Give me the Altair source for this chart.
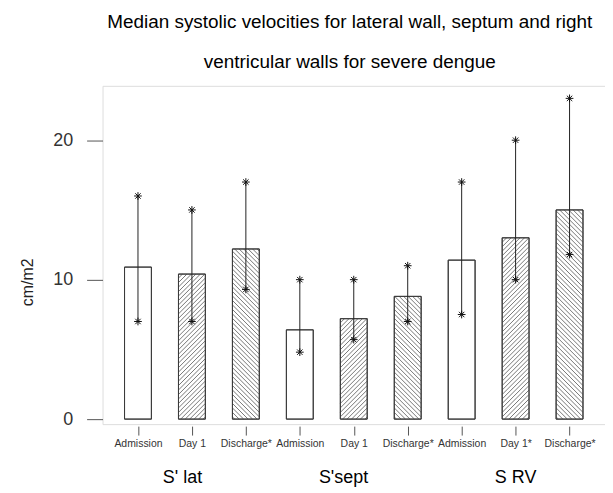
import json
import altair as alt
import pandas as pd

# ---- data ----
labels = ["Admission", "Day 1", "Discharge*", "Admission", "Day 1", "Discharge*",
          "Admission", "Day 1*", "Discharge*"]
positions = [1, 2, 3, 4, 5, 6, 7, 8, 9]
medians = [10.9, 10.4, 12.2, 6.4, 7.2, 8.8, 11.4, 13.0, 15.0]
lower = [7.0, 7.0, 9.3, 4.8, 5.7, 7.0, 7.5, 10.0, 11.8]
upper = [16.0, 15.0, 17.0, 10.0, 10.0, 11.0, 17.0, 20.0, 23.0]
hatch = ["none", "up", "down", "none", "up", "down", "none", "up", "down"]
group_names = ["S' lat", "S'sept", "S RV"]
group_pos = [1.825, 4.81, 8.0]

# ---- geometry ----
W, H = 505, 340
x_dom = [0.343, 9.657]
y_dom = [-0.36, 23.9]
half = 0.249
px_x = W / (x_dom[1] - x_dom[0])
px_y = H / (y_dom[1] - y_dom[0])
FONT = "Liberation Sans"

bars = pd.DataFrame({"pos": positions, "label": labels, "median": medians,
                     "lo": lower, "hi": upper})

# hatch segments derived from bar values
segs = []
step = 4.5
bw = 2 * half * px_x
for p, m, h in zip(positions, medians, hatch):
    if h == "none":
        continue
    Hp = m * px_y
    left = p - half
    c = -bw if h == "up" else 0.0
    cmax = Hp if h == "up" else Hp + bw
    c += step / 2
    while c < cmax:
        if h == "up":
            u0, u1 = max(0.0, -c), min(bw, Hp - c)
            h0, h1 = u0 + c, u1 + c
        else:
            u0, u1 = max(0.0, c - Hp), min(bw, c)
            h0, h1 = c - u0, c - u1
        if u1 > u0:
            segs.append({"x": left + u0 / px_x, "x2": left + u1 / px_x,
                         "y": h0 / px_y, "y2": h1 / px_y})
        c += step
hatch_df = pd.DataFrame(segs)

ends = pd.DataFrame({"pos": positions * 2, "v": lower + upper})
groups = pd.DataFrame({"pos": group_pos, "name": group_names})

xs = alt.Scale(domain=x_dom, nice=False, zero=False)
ys = alt.Scale(domain=y_dom, nice=False, zero=False)

label_expr = json.dumps(labels) + "[datum.value - 1]"

base = alt.Chart(bars)

rects = base.transform_calculate(
    x0=f"datum.pos - {half}", x1=f"datum.pos + {half}"
).mark_rect(fill="white", stroke="#3a3a3a", strokeWidth=1).encode(
    x=alt.X("x0:Q", scale=xs,
            axis=alt.Axis(values=positions, labelExpr=label_expr, title=None,
                          domain=False, grid=False, tickSize=9, offset=2,
                          tickColor="#555", labelFont=FONT, labelFontSize=10.5,
                          labelColor="#333", labelPadding=3)),
    x2="x1:Q",
    y=alt.Y("median:Q", scale=ys,
            axis=alt.Axis(values=[0, 10, 20], title="cm/m2", domain=False, grid=False,
                          tickSize=16, tickColor="#555", labelFont=FONT,
                          labelFontSize=18, labelColor="#333", labelPadding=14,
                          titleFont=FONT, titleFontSize=16, titleFontWeight="normal",
                          titleColor="#222", titleX=-75, titleY=197, titleAngle=-90,
                          titleAlign="center", titleBaseline="middle")),
    y2=alt.datum(0),
)

hatches = alt.Chart(hatch_df).mark_rule(color="#555", strokeWidth=0.8).encode(
    x=alt.X("x:Q", scale=xs), x2="x2:Q",
    y=alt.Y("y:Q", scale=ys), y2="y2:Q",
)

outline = base.transform_calculate(
    x0=f"datum.pos - {half}", x1=f"datum.pos + {half}"
).mark_rect(fill=None, stroke="#3a3a3a", strokeWidth=1).encode(
    x=alt.X("x0:Q", scale=xs), x2="x1:Q",
    y=alt.Y("median:Q", scale=ys), y2=alt.datum(0),
)

whisk = base.mark_rule(color="#222", strokeWidth=1).encode(
    x=alt.X("pos:Q", scale=xs), y=alt.Y("lo:Q", scale=ys), y2="hi:Q"
)

star = "M-1,0L1,0M0,-1L0,1M-0.7,-0.7L0.7,0.7M-0.7,0.7L0.7,-0.7"
stars = alt.Chart(ends).mark_point(shape=star, filled=False, color="#111",
                                   strokeWidth=1, size=60, opacity=1).encode(
    x=alt.X("pos:Q", scale=xs), y=alt.Y("v:Q", scale=ys)
)

group_text = alt.Chart(groups).mark_text(font=FONT, fontSize=18, color="black",
                                         baseline="middle", align="center").encode(
    x=alt.X("pos:Q", scale=xs), y=alt.value(394), text="name:N"
)

chart = alt.layer(rects, hatches, outline, whisk, stars, group_text).properties(
    width=W, height=H,
    title=alt.TitleParams(
        ["Median systolic velocities for lateral wall, septum and right",
         "ventricular walls for severe dengue"],
        font=FONT, fontSize=19, fontWeight="normal", color="black",
        lineHeight=40, anchor="middle", offset=14, dx=-4),
    autosize=alt.AutoSizeParams(type="none"),
    padding={"left": 95, "top": 77, "right": 0, "bottom": 66},
).configure_view(stroke="#444", strokeWidth=1).configure(background="white")

chart.save("out.html", embed_options={"renderer": "svg", "actions": False})
